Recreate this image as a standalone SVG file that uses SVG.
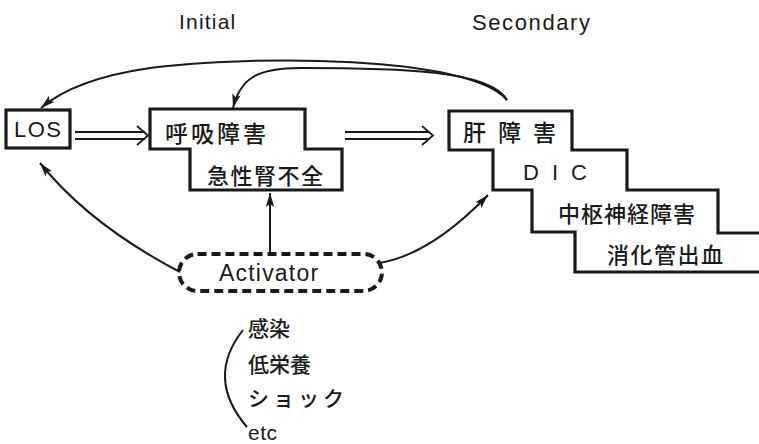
<svg xmlns="http://www.w3.org/2000/svg" width="759" height="444" viewBox="0 0 759 444">
<style>
.box{fill:#fff;stroke:#1a1a1a;stroke-width:3.2;stroke-linejoin:miter}
.jp{font-family:"Noto Sans CJK JP","Noto Sans",sans-serif;fill:#1a1a1a;dominant-baseline:central;font-weight:500}
.en{font-family:"Liberation Sans",Arial,sans-serif;fill:#1a1a1a;dominant-baseline:central}
.con{fill:none;stroke:#1a1a1a;stroke-width:2}
.dbl{fill:none;stroke:#1a1a1a;stroke-width:1.8}
</style>
<defs>
<marker id="ah" markerUnits="userSpaceOnUse" markerWidth="16" markerHeight="10" refX="14" refY="5" orient="auto">
<path d="M0,0.8 L14,5 L0,9.2 L3,5 Z" fill="#1a1a1a"/>
</marker>
</defs>
<rect width="759" height="444" fill="#fff"/>
<text class="en" x="179" y="21" font-size="21" letter-spacing="1.2">Initial</text>
<text class="en" x="472" y="22" font-size="22" letter-spacing="1.6">Secondary</text>

<g id="los">
<rect class="box" x="6" y="110" width="64" height="38"/>
<text class="en" x="14" y="129" font-size="22" letter-spacing="1.5">LOS</text>
</g>

<g id="initial">
<path class="box" d="M150,109 H305 V149 H342 V190 H190 V149 H150 Z"/>
<text class="jp" x="165" y="132" font-size="23" letter-spacing="3">呼吸障害</text>
<text class="jp" x="207" y="174" font-size="22" letter-spacing="1.5">急性腎不全</text>
</g>

<g id="secondary">
<path class="box" d="M765,233 H718 V190 H627 V150 H572 V111 H449 V150 H493 V190 H532 V232 H575 V272 H765"/>
<text class="jp" x="463" y="131" font-size="23" letter-spacing="12">肝障害</text>
<text class="en" x="523" y="172" font-size="22" letter-spacing="13">DIC</text>
<text class="jp" x="558" y="212" font-size="22" letter-spacing="1">中枢神経障害</text>
<text class="jp" x="607" y="253" font-size="22" letter-spacing="1.5">消化管出血</text>
</g>

<g id="activator">
<rect x="179" y="254" width="203" height="37" rx="18.5" fill="#fff" stroke="#1a1a1a" stroke-width="4" stroke-dasharray="9,5"/>
<text class="en" x="219" y="273" font-size="23" letter-spacing="1.2">Activator</text>
</g>

<g id="causes">
<text class="jp" x="248" y="327" font-size="21">感染</text>
<text class="jp" x="248" y="363" font-size="21">低栄養</text>
<text class="jp" x="248" y="397" font-size="21" letter-spacing="4">ショック</text>
<text class="en" x="248" y="432" font-size="21" letter-spacing="0.5">etc</text>
</g>

<g id="connectors">
<path class="dbl" d="M75,132 H145 M75,139 H145 M137,126 L148,135.5 L137,145"/>
<path class="dbl" d="M345,132 H430 M345,139 H430 M422,126 L433,135.5 L422,145"/>
<path class="con" d="M507,100 C470,55 250,55 150,68 C95,76 62,90 41,108" marker-end="url(#ah)"/>
<path class="con" d="M507,100 C490,70 400,68 300,68 C255,68 240,80 233,108" marker-end="url(#ah)"/>
<path class="con" d="M270,254 V193" marker-end="url(#ah)"/>
<path class="con" d="M180,272 Q90,225 40,163" marker-end="url(#ah)"/>
<path class="con" d="M379,263 Q430,255 488,195" marker-end="url(#ah)"/>
<path class="con" d="M243,330 Q205,378 247,427"/>
</g>
</svg>
